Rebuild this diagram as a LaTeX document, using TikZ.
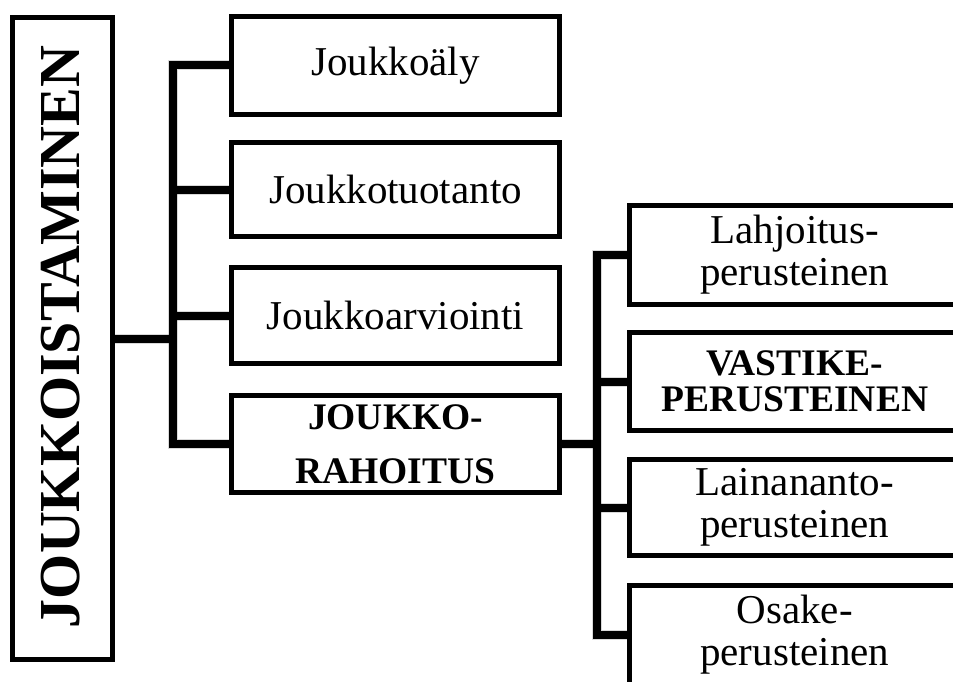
\documentclass[tikz,border=0pt]{standalone}
\usepackage{fontspec}
\setmainfont{Liberation Serif}
\begin{document}
\begin{tikzpicture}[x=1pt,y=-1pt,
  boxL/.style={draw=black, line width=5pt, fill=white, minimum width=328pt, inner sep=0pt, align=center, font=\fontsize{41}{42}\selectfont},
  boxR/.style={boxL, minimum width=330pt},
  conn/.style={line width=8pt, line join=miter, line cap=butt},
  shad/.style={line width=10pt, draw=black, opacity=0.15, shift={(3,5)}},
  shadb/.style={line width=7pt, draw=black, opacity=0.15, shift={(2,4)}}]
\useasboundingbox (0,0) rectangle (953,682);
\clip (0,0) rectangle (953,682);
% main box
\node[draw=black, line width=5pt, fill=white, minimum width=100pt, minimum height=642pt, inner sep=0pt] (main) at (62.5,338.5) {};
\node[rotate=90, font=\fontsize{58}{60}\selectfont\bfseries, inner sep=0pt] (title) at (61,337) {JOUKKOISTAMINEN};
% left column
\node[boxL, minimum height=98pt] (L1) at (395.5,65.5) {Joukkoäly};
\node[boxL, minimum height=94pt] (L2) at (395.5,189.5) {Joukkotuotanto};
\node[boxL, minimum height=96pt] (L3) at (395.5,315.5) {Joukkoarviointi};
\node[boxL, minimum height=97pt, font=\fontsize{37.5}{54}\selectfont\bfseries] (L4) at (395.5,444) {JOUKKO-\\RAHOITUS};
% right column
\node[boxR, minimum height=99pt] (R1) at (794.75,255) {Lahjoitus-\\perusteinen};
\node[boxR, minimum height=98pt, font=\fontsize{37.5}{36}\selectfont\bfseries] (R2) at (794.75,381.5) {VASTIKE-\\PERUSTEINEN};
\node[boxR, minimum height=96pt] (R3) at (794.75,507.5) {Lainananto-\\perusteinen};
\node[boxR, minimum height=99pt] (R4) at (794.75,635) {Osake-\\perusteinen};
% bracket coordinates
\coordinate (bx) at (173,0);
\coordinate (cx) at (597,0);
% shadows
\foreach \s in {shad,shadb}{
\begin{scope}[\s]
\draw (main.east) -- (bx |- main.east);
\draw (L1.west) -- (bx |- L1.west) -- (bx |- L4.west) -- (L4.west);
\draw (L2.west) -- (bx |- L2.west);
\draw (L3.west) -- (bx |- L3.west);
\draw (L4.east) -- (cx |- L4.east);
\draw (R1.west) -- (cx |- R1.west) -- (cx |- R4.west) -- (R4.west);
\draw (R2.west) -- (cx |- R2.west);
\draw (R3.west) -- (cx |- R3.west);
\end{scope}
}
% connectors
\draw[conn] (main.east) -- (bx |- main.east);
\draw[conn] (L1.west) -- (bx |- L1.west) -- (bx |- L4.west) -- (L4.west);
\draw[conn] (L2.west) -- (bx |- L2.west);
\draw[conn] (L3.west) -- (bx |- L3.west);
\draw[conn] (L4.east) -- (cx |- L4.east);
\draw[conn] (R1.west) -- (cx |- R1.west) -- (cx |- R4.west) -- (R4.west);
\draw[conn] (R2.west) -- (cx |- R2.west);
\draw[conn] (R3.west) -- (cx |- R3.west);
\end{tikzpicture}
\end{document}
